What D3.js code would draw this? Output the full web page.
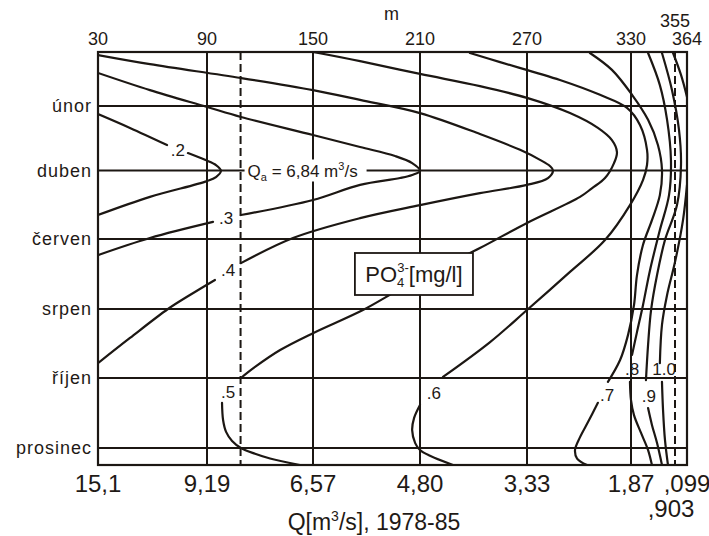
<!DOCTYPE html>
<html><head><meta charset="utf-8">
<script src="https://cdn.jsdelivr.net/npm/d3@7"></script>
<style>
html,body{margin:0;padding:0;background:#fff;}
svg text{font-family:"Liberation Sans", Arial, sans-serif; fill:#1f1a16;}
</style></head><body>
<svg id="c" width="709" height="536"></svg>
<script>
// ---------- data ----------
const monthNames = ["únor","duben","červen","srpen","říjen","prosinec"];
const monthValues = [2,4,6,8,10,12];
const distTicks = [30,90,150,210,270,330];
const distUpper = 355, distEnd = 364;
const flowTicks = [30,90,150,210,270,330,364];
const flowLabels = ["15,1","9,19","6,57","4,80","3,33","1,87",",099"];
const flowExtraTick = 355, flowExtraLabel = ",903";
const qaDistance = 109;
const qaMonth = 4;
const qaText = ["Q","a"," = 6,84 m","3","/s"];

// isolines of PO4 concentration [distance m, month]
const iso02 = [
  [[30,2.25],[47.6,2.68],[68,3.21]],
  [[79.5,3.46],[88.9,3.67],[95.1,3.83],[97.9,4.01],[95.1,4.19],[90,4.31],[58.6,4.77],[30,5.3]]
];
const iso03 = [
  [[30,1.02],[58.6,1.53],[90,2.03],[109.2,2.34],[150,2.9],[176.4,3.27],[196,3.55],[205.6,3.77],[210,4.01],
   [205.6,4.13],[198.8,4.22],[176.4,4.42],[150,4.86],[109.2,5.3]],
  [[93.4,5.5],[58.6,5.97],[30,6.46]]
];
const iso04 = [
  [[30,0.49],[58.6,0.76],[109.2,1.17],[150,1.53],[176.4,1.82],[210,2.22],[243.6,2.87],[266.1,3.36],[277.5,3.67],
   [283.2,3.86],[285,4.0],[282.1,4.22],[270,4.42],[243.6,4.66],[210,5.01],[176.4,5.39],[138.7,5.97],[109.2,6.69]],
  [[94.5,7.17],[80.6,7.6],[68.5,8.0],[47.6,8.84],[30,9.57]]
];
const iso05 = [
  [[150,0.4],[176.4,0.67],[210,1.05],[243.6,1.41],[270,1.76],[294.8,2.22],[310.9,2.68],[319,3.06],[321.9,3.43],
   [320.2,3.77],[315,4.22],[307.4,4.52],[300.6,4.77],[270,5.53],[243.6,6.26],[221.2,6.83],[198.8,7.43],[178,8.03],
   [150,8.7],[131.4,9.19],[117.2,9.68],[109.2,10.0]],
  [[98.5,10.71],[99.1,11.2],[100.8,11.54],[104.2,11.8],[109.2,12.0],[117.2,12.17],[125.7,12.31],[142.6,12.5]]
];
const iso06 = [
  [[238,0.43],[254.9,0.7],[289,1.23],[312.1,1.67],[327.7,2.06],[335.1,2.59],[339.1,3.36],[339.1,3.83],[336.8,4.28],
   [329.4,5.01],[315,6.03],[294.8,6.94],[270,8.03],[249.3,8.96],[222.9,9.97]],
  [[210,10.77],[206.7,11.14],[205.6,11.49],[207.3,11.86],[210,12.06],[215.6,12.23],[228.5,12.5]]
];
const iso07 = [
  [[306.3,0.43],[319,0.93],[330.6,1.67],[339.7,2.43],[345.3,3.21],[347.6,3.98],[346.4,4.72],[341.9,5.45],
   [336.8,6.17],[333.4,7.03],[331.7,7.89],[328.3,8.75],[323.7,9.48],[316.7,10.11]],
  [[310.9,10.71],[305.2,11.26],[300.6,11.69],[297.7,12.06],[298.9,12.31],[304.6,12.5]]
];
const iso08 = [
  [[339.7,0.43],[346.4,1.38],[350.5,2.43],[352.7,3.67],[351.6,4.72],[346.4,5.74],[340.8,6.89],[336.8,7.89],
   [333.4,8.67],[330.6,9.33]],
  [[329.4,10.11],[330,10.63],[331.7,11.06],[335.7,11.57],[339.7,12.06],[341.9,12.5]]
];
const iso09 = [
  [[347.6,0.43],[353.3,1.53],[358,2.74],[359.5,3.83],[356.5,5.01],[349.3,6.03],[344.8,7.03],[341.4,8.03],
   [339.7,9.04],[338.5,10.06]],
  [[339.7,10.86],[341.9,11.34],[344.8,11.86],[347.6,12.5]]
];
const iso10 = [
  [[353.9,0.43],[359.5,1.08],[364,1.73]],
  [[364,4.42],[361,5.45],[355,6.66],[350.5,7.6],[347.6,8.46],[346.4,9.57]],
  [[347.6,10.11],[348.2,10.91],[349.3,11.77],[351,12.5]]
];
const isolines = [iso02, iso03, iso04, iso05, iso06, iso07, iso08, iso09, iso10];
const isoLabels = [
  {t:".2", m:74, mo:3.36}, {t:".3", m:100.8, mo:5.39}, {t:".4", m:101.9, mo:6.89},
  {t:".5", m:101.9, mo:10.4}, {t:".6", m:217.8, mo:10.43}, {t:".7", m:316.2, mo:10.49},
  {t:".8", m:330.6, mo:9.74}, {t:".9", m:340.2, mo:10.51}, {t:"1.0", m:348.8, mo:9.74}
];
const unitBox = {m0:173.5, m1:239.7, mo0:6.4, mo1:7.6};
const axisUnitPos = 194;

// ---------- scales ----------
const ink = "#1c1713";
const svg = d3.select("#c");
const x = d3.scaleLinear().domain([30,90,150,210,270,330,355,364]).range([98,207,313,420,527,631,675,687]);
const y = d3.scaleLinear().domain([0.4,2,4,6,8,10,12,12.5]).range([52,106,170.5,239,309,378,448,465]);
const X0 = x(30), X1 = x(distEnd), Y0 = y(0.4), Y1 = y(12.5);

// gridlines
const g = svg.append("g").attr("stroke", ink).attr("stroke-width", 2);
g.selectAll("line.v").data(distTicks.slice(1)).enter().append("line")
  .attr("x1", d=>x(d)).attr("x2", d=>x(d)).attr("y1", Y0).attr("y2", Y1);
g.selectAll("line.h").data(monthValues).enter().append("line")
  .attr("x1", X0).attr("x2", X1).attr("y1", d=>y(d)).attr("y2", d=>y(d));
g.selectAll("line.d").data([qaDistance, distUpper]).enter().append("line")
  .attr("x1", d=>x(d)).attr("x2", d=>x(d)).attr("y1", Y0).attr("y2", Y1)
  .attr("stroke-dasharray", "8,4");

// Qa annotation
const qaG = svg.append("g");
qaG.append("rect").attr("x", x(qaDistance)+4).attr("y", y(qaMonth)-11).attr("width", 122).attr("height", 22).attr("fill", "#fff");
const qt = qaG.append("text").attr("x", x(qaDistance)+7).attr("y", y(qaMonth)+6).attr("font-size", 17);
qt.append("tspan").text(qaText[0]);
qt.append("tspan").attr("font-size", 11).attr("dy", 4).text(qaText[1]);
qt.append("tspan").attr("dy", -4).text(qaText[2]);
qt.append("tspan").attr("font-size", 11).attr("dy", -7).text(qaText[3]);
qt.append("tspan").attr("dy", 7).text(qaText[4]);

// clip
svg.append("clipPath").attr("id", "pc").append("rect").attr("x", X0).attr("y", Y0).attr("width", X1-X0).attr("height", Y1-Y0);

const line = d3.line().x(d=>x(d[0])).y(d=>y(d[1])).curve(d3.curveCatmullRom.alpha(0.5));
const cg = svg.append("g").attr("clip-path", "url(#pc)").attr("fill", "none").attr("stroke", ink).attr("stroke-width", 2.2).attr("stroke-linecap", "round");
isolines.forEach(iso => {
  cg.selectAll(null).data(iso).enter().append("path").attr("d", line);
});

// isoline labels
svg.selectAll("text.lab").data(isoLabels).enter().append("text")
  .attr("x", d=>x(d.m)).attr("y", d=>y(d.mo)).attr("dy", "0.36em")
  .attr("text-anchor", "middle").attr("font-size", 17).text(d=>d.t);

// unit box
svg.append("rect").attr("x", x(unitBox.m0)).attr("y", y(unitBox.mo0))
  .attr("width", x(unitBox.m1)-x(unitBox.m0)).attr("height", y(unitBox.mo1)-y(unitBox.mo0))
  .attr("fill", "#fff").attr("stroke", ink).attr("stroke-width", 1.8);
const ut = svg.append("text").attr("x", (x(unitBox.m0)+x(unitBox.m1))/2).attr("y", y(7)+8)
  .attr("text-anchor", "middle").attr("font-size", 22);
ut.append("tspan").text("PO");
ut.append("tspan").attr("font-size", 13).attr("dy", 5).text("4");
ut.append("tspan").attr("font-size", 13).attr("dx", -7).attr("dy", -15).text("3-");
ut.append("tspan").attr("dy", 10).text("[mg/l]");

// frame
svg.append("rect").attr("x", X0).attr("y", Y0).attr("width", X1-X0).attr("height", Y1-Y0)
  .attr("fill", "none").attr("stroke", ink).attr("stroke-width", 2.2);

// top axis labels
svg.selectAll("text.top").data(distTicks).enter().append("text")
  .attr("x", d=>x(d)).attr("y", 45).attr("text-anchor", "middle").attr("font-size", 18).text(d=>d);
svg.append("text").attr("x", x(distEnd)).attr("y", 45).attr("text-anchor", "middle").attr("font-size", 18).text(distEnd);
svg.append("text").attr("x", x(distUpper)).attr("y", 27).attr("text-anchor", "middle").attr("font-size", 18).text(distUpper);
svg.append("text").attr("x", x(axisUnitPos)).attr("y", 20).attr("text-anchor", "middle").attr("font-size", 18).text("m");

// month labels
svg.selectAll("text.mon").data(monthValues).enter().append("text")
  .attr("x", X0-6).attr("y", d=>y(d)).attr("dy", "0.36em").attr("text-anchor", "end")
  .attr("font-size", 18).attr("letter-spacing", 1).text((d,i)=>monthNames[i]);

// bottom axis labels
svg.selectAll("text.bot").data(flowTicks).enter().append("text")
  .attr("x", d=>x(d)).attr("y", 492).attr("text-anchor", "middle").attr("font-size", 24).text((d,i)=>flowLabels[i]);
svg.append("text").attr("x", x(flowExtraTick)-4).attr("y", 517).attr("text-anchor", "middle").attr("font-size", 24).text(flowExtraLabel);
const tt = svg.append("text").attr("x", 374).attr("y", 530).attr("text-anchor", "middle").attr("font-size", 23);
tt.append("tspan").text("Q[m");
tt.append("tspan").attr("font-size", 14).attr("dy", -9).text("3");
tt.append("tspan").attr("dy", 9).text("/s], 1978-85");
</script>
</body></html>
